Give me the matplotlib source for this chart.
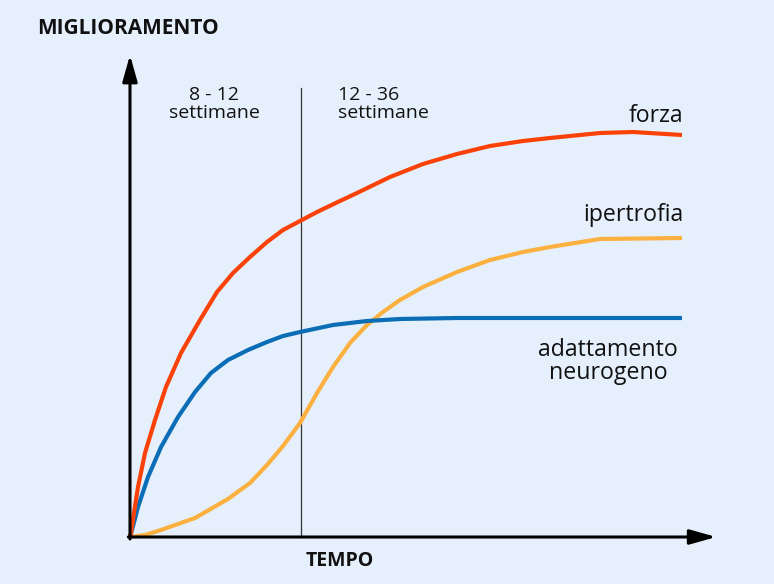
import matplotlib.pyplot as plt

# values (tempo 0-100, miglioramento 0-100)
forza_t = [0, 0.18, 0.72, 1.45, 2.72, 4.53, 6.52, 9.24, 12.68, 15.76, 18.66, 21.74, 24.82,
           27.72, 30.80, 33.88, 38.04, 41.12, 47.10, 53.08, 59.24, 65.22, 71.20, 76.09,
           85.14, 91.12, 100]
forza_m = [0, 1, 6, 12.5, 21, 29.25, 37.5, 46, 54.25, 61.25, 66, 70, 73.75,
           76.75, 79, 81.25, 84, 86, 90, 93.25, 95.75, 97.75, 99, 99.75,
           101, 101.25, 100.5]

neuro_t = [0, 0.36, 1.45, 3.26, 5.62, 8.70, 11.78, 14.67, 17.75, 21.38, 24.82, 27.72,
           30.80, 36.78, 42.93, 48.91, 59.24, 76.09, 100]
neuro_m = [0, 1.75, 7.5, 15, 22.5, 30, 36.25, 41, 44.25, 46.75, 48.75, 50.25,
           51.25, 53, 54, 54.5, 54.75, 54.75, 54.75]

iper_t = [0, 2.72, 5.62, 11.78, 17.75, 21.74, 24.82, 27.72, 30.80, 33.88, 36.78, 39.86,
          42.93, 45.83, 48.91, 53.08, 59.24, 65.22, 71.20, 76.09, 85.14, 100]
iper_m = [0, 0.5, 1.75, 4.75, 9.5, 13.5, 18, 22.75, 28.5, 36, 42.5, 48.5,
          53, 56.25, 59.25, 62.5, 66.25, 69.25, 71.25, 72.5, 74.5, 74.75]

phase_split = 30.9
phase_labels = ["8 - 12\nsettimane", "12 - 36\nsettimane"]

BG = "#e6f0fd"
RED = "#fa4208"
BLUE = "#0a6db5"
ORANGE = "#fbb040"
INK = "#111111"

fig = plt.figure(figsize=(7.74, 5.84), dpi=100, facecolor=BG)
ax = fig.add_axes([0, 0, 1, 1])
ax.set_facecolor(BG)
ax.set_xlim(-23.55, 116.67)
ax.set_ylim(-11.75, 134.25)
ax.axis("off")

# phase divider
ax.plot([phase_split, phase_split], [0, 112.3], color="#333333", lw=0.9)

line_kw = dict(lw=3.0, solid_capstyle="butt", solid_joinstyle="round")
ax.plot(iper_t, iper_m, color=ORANGE, zorder=3, **line_kw)
ax.plot(neuro_t, neuro_m, color=BLUE, zorder=4, **line_kw)
ax.plot(forza_t, forza_m, color=RED, zorder=5, **line_kw)

# axes with arrows
arrow = dict(arrowstyle="-|>,head_length=1.6,head_width=0.45",
             color="black", lw=2.2, shrinkA=0, shrinkB=0)
ax.annotate("", xy=(0, 120.5), xytext=(0, -0.5), arrowprops=arrow, zorder=6)
ax.annotate("", xy=(106.2, 0), xytext=(-0.3, 0), arrowprops=arrow, zorder=6)

font = "Open Sans"
ax.text(-0.4, 127.0, "MIGLIORAMENTO", ha="center", va="center",
        fontsize=15, fontweight="bold", family=font, color=INK)
ax.text(38.0, -6.0, "TEMPO", ha="center", va="center",
        fontsize=14, fontweight="bold", family=font, color=INK)

ax.text(15.3, 108.2, phase_labels[0], ha="center", va="center", fontsize=14,
        family=font, color=INK, linespacing=1.03)
ax.text(37.7, 108.2, phase_labels[1], ha="left", va="center", fontsize=14,
        family=font, color=INK, linespacing=1.03, multialignment="left")

ax.text(100.2, 105.3, "forza", ha="right", va="center", fontsize=16.7, family=font, color=INK)
ax.text(100.2, 80.5, "ipertrofia", ha="right", va="center", fontsize=16.7, family=font, color=INK)
ax.text(86.6, 43.9, "adattamento\nneurogeno", ha="center", va="center", fontsize=16.7,
        family=font, color=INK, linespacing=0.91)

fig.savefig("out.png", dpi=100, facecolor=BG)
